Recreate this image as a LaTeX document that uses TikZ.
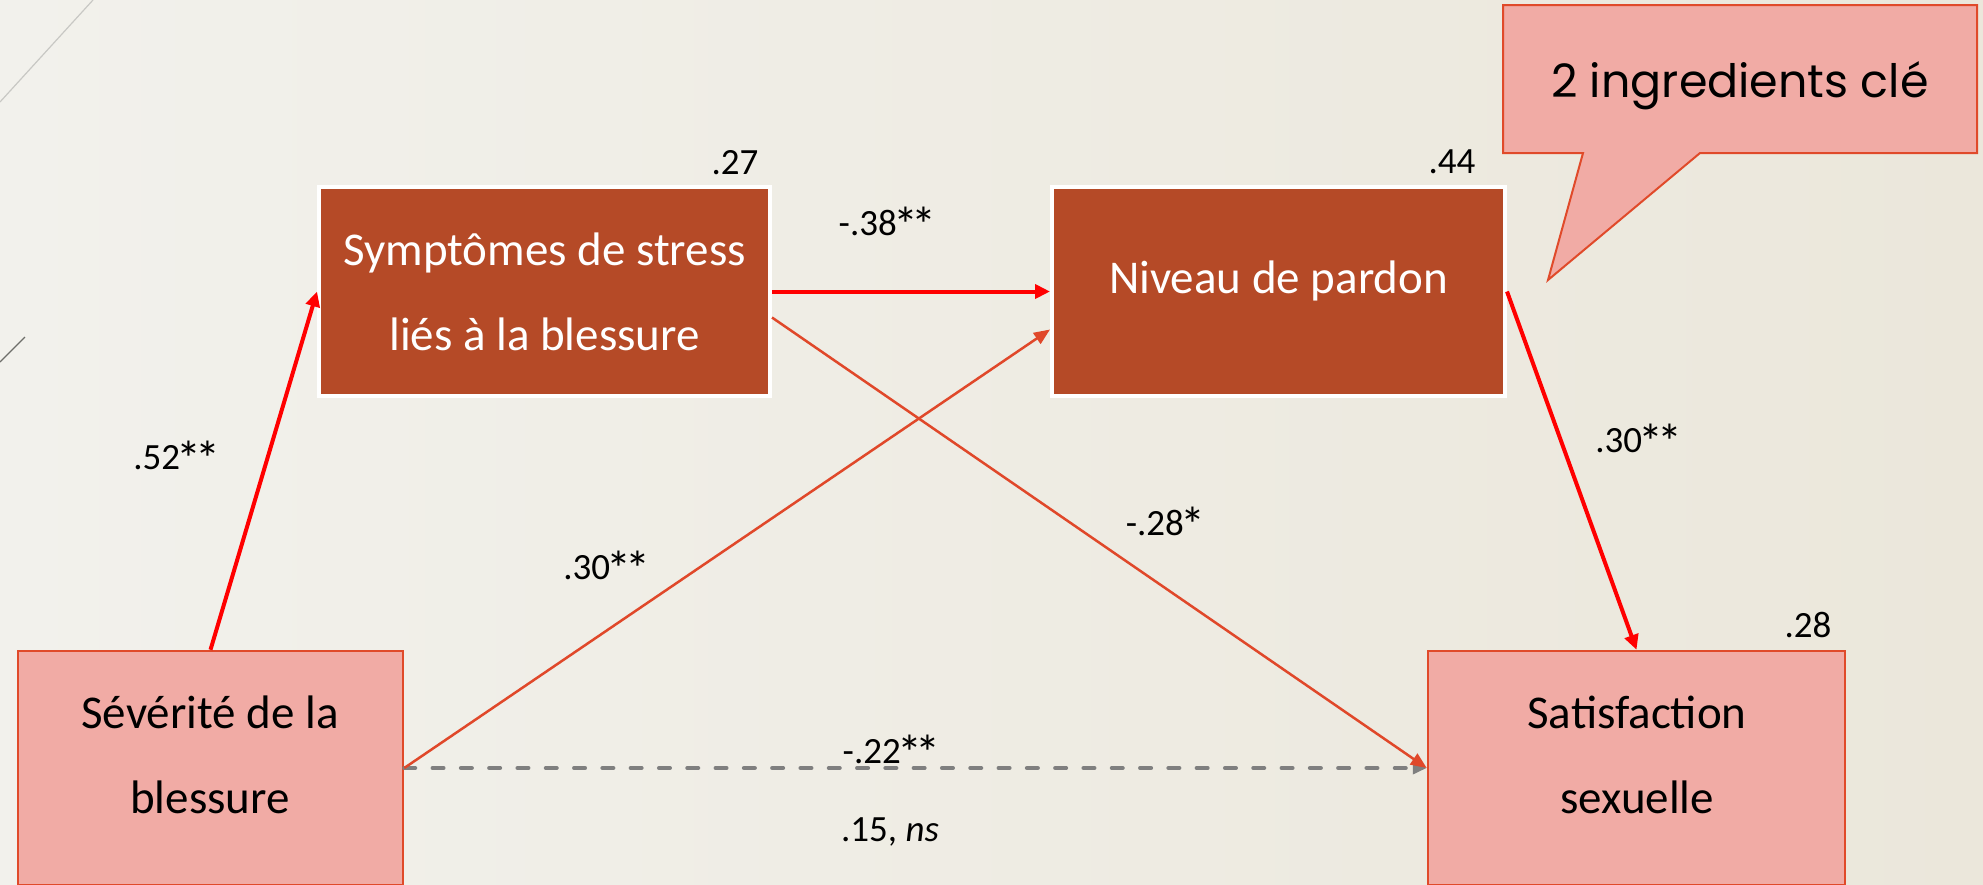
\documentclass[tikz,border=0pt]{standalone}
\usepackage{fontspec}
\usepackage{graphicx}
\setmainfont{Carlito}
\newfontfamily\gothic{Poppins}
\usetikzlibrary{arrows.meta,calc}
\definecolor{brownbox}{HTML}{B54A27}
\definecolor{pinkbox}{HTML}{F1ABA5}
\definecolor{pinkline}{HTML}{E04A2A}
\definecolor{orarrow}{HTML}{E0482A}
\definecolor{grayarrow}{HTML}{7F7F7F}
\definecolor{bgL}{HTML}{F2F1EC}
\definecolor{bgM}{HTML}{FAFAF8}
\definecolor{bgR}{HTML}{EBE7DB}
\definecolor{decoA}{HTML}{C8C8C4}
\definecolor{decoB}{HTML}{6E6E6A}
\newcommand{\sigst}{\kern-0.09em\raisebox{-0.2em}{\scalebox{1.35}{*}}\kern-0.09em}
\begin{document}
\begin{tikzpicture}[x=1pt,y=-1pt,
  darkbox/.style={rectangle, fill=brownbox, draw=white, line width=4pt, inner sep=0pt},
  lightbox/.style={rectangle, fill=pinkbox, draw=pinkline, line width=2.5pt, inner sep=0pt},
  boxtext/.style={font=\fontsize{47}{85}\selectfont, align=center, inner sep=0pt},
  lbl/.style={font=\fontsize{37}{44}\selectfont, inner sep=0pt, text depth=0pt},
  redarrow/.style={draw=red, line width=4pt, -{Triangle[length=15pt,width=14pt]}},
  orarrowst/.style={draw=orarrow, line width=2.5pt, -{Triangle[length=16pt,width=13pt]}},
  grayarrowst/.style={draw=grayarrow, line width=4pt, dash pattern=on 11pt off 17.3pt, line cap=round, -{Triangle[length=14pt,width=12pt]}},
]
\useasboundingbox (0,0) rectangle (1983,884);
\clip (0,0) rectangle (1983,884);
\shade[left color=bgL, middle color=bgM, right color=bgR] (0,0) rectangle (1983,884);
% decorative lines
\draw[decoA, line width=1.2pt] (93,0) -- (0,102);
\draw[decoB, line width=1.2pt] (25,337) -- (0,362);

% boxes
\node[darkbox, minimum width=451pt, minimum height=209pt] (sym) at (544.5,291.5) {};
\node[darkbox, minimum width=453pt, minimum height=209pt] (niv) at (1278.5,291.5) {};
\node[lightbox, minimum width=385pt, minimum height=234pt] (sev) at (210.5,768) {};
\node[lightbox, minimum width=417pt, minimum height=234pt] (sat) at (1636.5,768) {};

\node[boxtext, text=white] (symt) at (544.5,292) {Symptômes de stress\\liés à la blessure};
\node[boxtext, text=white] (nivt) at (1278.5,281) {Niveau de pardon};
\node[boxtext] (sevt) at (210,754.5) {Sévérité de la\\blessure};
\node[boxtext] (satt) at (1637,754.5) {Satisfaction\\sexuelle};

% connectors
\draw[grayarrowst] (sev.east) -- (sat.west);
\draw[redarrow] (sev.north) -- (sym.west);
\draw[redarrow] (sym.east) -- (niv.west);
\draw[orarrowst] (sev.east) -- ([yshift=-38pt]niv.west);
\draw[orarrowst] ([yshift=-26pt]sym.east) -- (sat.west);
\draw[redarrow] (niv.east) -- (sat.north);

% labels
\node[lbl] (l27) at (735,162) {.27};
\node[lbl] (l44) at (1452,162) {.44};
\node[lbl] (l28) at (1808,625) {.28};
\node[lbl] (l38) at (886,221) {-.38\sigst\sigst};
\node[lbl] (l52) at (175,455) {.52\sigst\sigst};
\node[lbl] (l30a) at (605,565) {.30\sigst\sigst};
\node[lbl] (l28b) at (1164,521) {-.28\sigst};
\node[lbl] (l30b) at (1637,438) {.30\sigst\sigst};
\node[lbl] (l22) at (890,749) {-.22\sigst\sigst};
\node[lbl] (l15) at (890,830) {.15, \textit{ns}};

% callout
\draw[fill=pinkbox, draw=pinkline, line width=2pt] (1503,5) -- (1977,5) -- (1977,153) -- (1700,153) -- (1548,280) -- (1583,153) -- (1503,153) -- cycle;
\node[font=\gothic\fontsize{46}{56}\selectfont, anchor=base, inner sep=0pt] (callt) at (1740,97) {2 ingredients clé};
\end{tikzpicture}
\end{document}
